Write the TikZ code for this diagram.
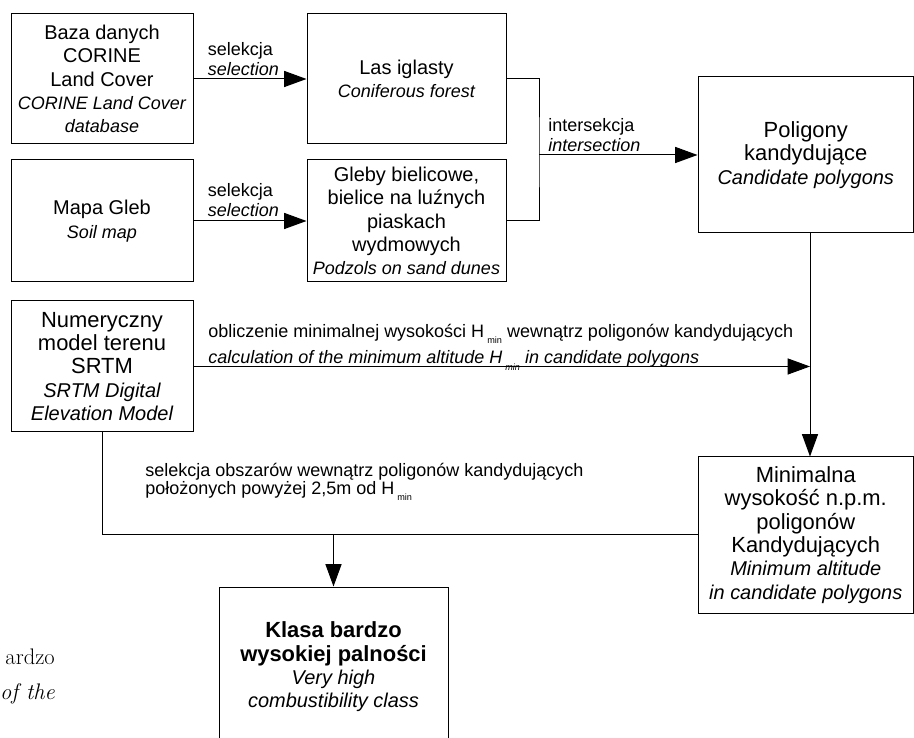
\documentclass[tikz,border=0pt]{standalone}
\usepackage{fontspec}
\setmainfont{Liberation Sans}
\usetikzlibrary{arrows.meta}
\usetikzlibrary{positioning}
\newcommand{\fsA}{\fontsize{14.2}{16.6}\selectfont}
\newcommand{\fsB}{\fontsize{12.8}{16.6}\selectfont\itshape}
\newcommand{\fsC}{\fontsize{15.6}{16.6}\selectfont}
\newcommand{\fsD}{\fontsize{14.2}{16.6}\selectfont\itshape}
\newcommand{\hmin}{H\,\raisebox{-4.5pt}{\fontsize{6.5}{7}\selectfont min}}

\begin{document}
\begin{tikzpicture}[
  box/.style={draw,line width=0.7pt,align=center,inner sep=2pt},
  lbl/.style={font=\fontsize{12.8}{14.2}\selectfont,align=left,inner sep=0pt},
  conn/.style={line width=0.7pt},
  arr/.style={conn,-{Triangle[length=16pt,width=11.5pt]}}
]
\useasboundingbox (0,0) rectangle (22.85,18.45);
\clip (0,0) rectangle (22.85,18.45);

% boxes
\node[box,font=\fsA,minimum width=4.55cm,minimum height=3.25cm] (corine) at (2.55,16.475) {Baza danych\\CORINE\\Land Cover\\{\fsB CORINE Land Cover}\\{\fsB database}};
\node[box,font=\fsA,minimum width=4.975cm,minimum height=3.25cm] (las) at (10.1625,16.475) {Las iglasty\\{\fsB Coniferous forest}};
\node[box,font=\fsA,minimum width=4.55cm,minimum height=3.05cm] (mapa) at (2.55,12.925) {Mapa Gleb\\{\fsB Soil map}};
\node[box,font=\fsA,minimum width=4.975cm,minimum height=3.05cm] (gleby) at (10.1625,12.925) {Gleby bielicowe,\\bielice na luźnych\\piaskach\\wydmowych\\{\fsB Podzols on sand dunes}};
\node[box,font=\fsC,minimum width=5.3875cm,minimum height=3.9cm] (poly) at (20.144,14.575) {Poligony\\kandydujące\\{\fsD Candidate polygons}};
\node[box,font=\fsC,minimum width=4.55cm,minimum height=3.275cm] (srtm) at (2.55,9.2875) {Numeryczny\\model terenu\\SRTM\\{\fsD SRTM Digital}\\{\fsD Elevation Model}};
\node[box,font=\fsC,minimum width=5.3875cm,minimum height=3.9cm] (minalt) at (20.144,5.075) {Minimalna\\wysokość n.p.m.\\poligonów\\Kandydujących\\{\fsD Minimum altitude}\\{\fsD in candidate polygons}};
\node[box,font=\fsC,minimum width=5.725cm,minimum height=4cm] (klasa) at (8.3375,1.775) {\textbf{Klasa bardzo}\\\textbf{wysokiej palności}\\{\fsD Very high}\\{\fsD combustibility class}};

% connectors
\coordinate (jn) at (13.475,14.575);
\coordinate (vx) at (20.25,0);
\draw[arr] (corine.east) -- (las.west);
\draw[arr] (mapa.east) -- (gleby.west);
\draw[conn] (las.east) -| (jn) |- (gleby.east);
\draw[arr] (jn) -- (poly.west);
\draw[arr] (poly.south -| vx) -- (minalt.north -| vx);
\draw[arr] (srtm.east) -- (srtm.east -| vx);
\draw[conn] (srtm.south) |- (minalt.west);
\draw[arr] (klasa.north |- minalt.west) -- (klasa.north);

% labels
\node[lbl,above right=2pt and 0.35cm of corine.east] (selA) {selekcja\\\textit{selection}};
\node[lbl,above right=3pt and 0.35cm of mapa.east] (selB) {selekcja\\\textit{selection}};
\node[lbl,above right=2pt and 0.225cm of jn] (inter) {intersekcja\\\textit{intersection}};
\node[lbl,font=\fontsize{12.8}{18.8}\selectfont,anchor=west] (calc) at (5.2,9.77) {obliczenie minimalnej wysokości \hmin\ wewnątrz poligonów kandydujących\\\textit{calculation of the minimum altitude \hmin\ in candidate polygons}};
\node[lbl,font=\fontsize{12.8}{12.9}\selectfont,anchor=west] (selC) at (3.625,6.4) {selekcja obszarów wewnątrz poligonów kandydujących\\położonych powyżej 2,5m od \hmin};

% cut caption
\node[inner sep=0pt,anchor=base east,font=\fontfamily{lmr}\fontsize{16}{18}\selectfont] (capA) at (1.375,1.825) {ardzo};
\node[inner sep=0pt,anchor=base east,font=\fontfamily{lmr}\fontsize{16}{18}\selectfont\itshape] (capB) at (1.375,0.95) {of the};

\end{tikzpicture}
\end{document}
